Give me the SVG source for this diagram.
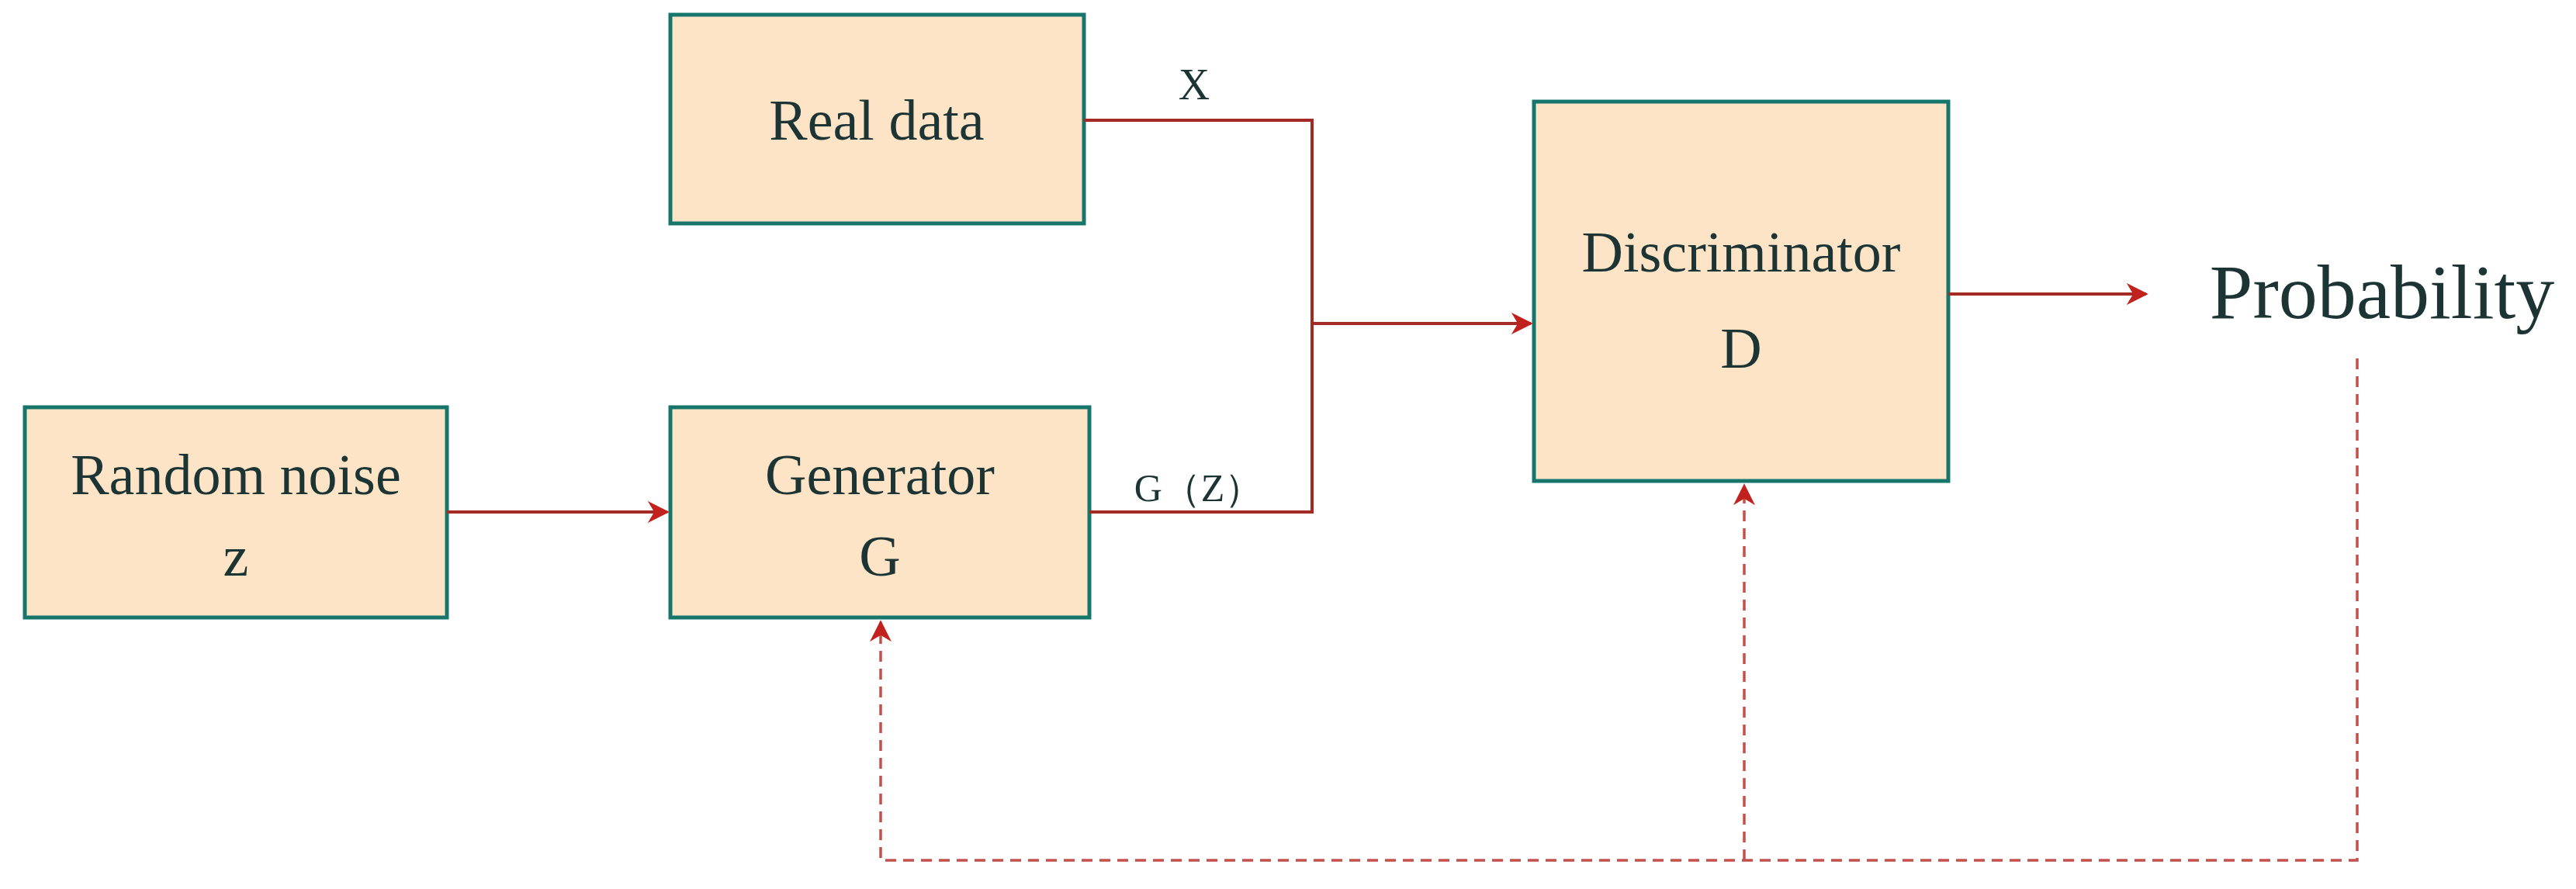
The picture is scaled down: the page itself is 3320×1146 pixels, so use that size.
<svg xmlns="http://www.w3.org/2000/svg" width="3320" height="1146" viewBox="0 0 3320 1146">
<style>
.box{fill:#fde4c6;stroke:#17766c;stroke-width:5}
.t{font-family:"Liberation Serif",serif;fill:#1c3434;text-anchor:middle}
.ln{fill:none;stroke:#a42a26;stroke-width:4}
.ds{fill:none;stroke:#c4504c;stroke-width:3.5;stroke-dasharray:14,9}
</style>
<defs>
<marker id="a" viewBox="0 0 10 10" refX="9" refY="5" markerWidth="12" markerHeight="12" markerUnits="userSpaceOnUse" orient="auto"><path d="M0,0L10,5L0,10L3,5Z" fill="#c2221e" transform="scale(1)"/></marker>
<marker id="b" viewBox="0 0 10 10" refX="9" refY="5" markerWidth="28" markerHeight="28" markerUnits="userSpaceOnUse" orient="auto"><path d="M0,0L10,5L0,10L3,5Z" fill="#c2221e"/></marker>
</defs>
<rect width="3320" height="1146" fill="#fff"/>
<g id="real"><rect class="box" x="864" y="19" width="533" height="269"/><text class="t" x="1130" y="180" font-size="74">Real data</text></g>
<g id="noise"><rect class="box" x="32" y="525" width="544" height="271"/><text class="t" x="304" y="637" font-size="74">Random noise</text><text class="t" x="304" y="742" font-size="74">z</text></g>
<g id="gen"><rect class="box" x="864" y="525" width="540" height="271"/><text class="t" x="1134" y="637" font-size="74">Generator</text><text class="t" x="1134" y="742" font-size="74">G</text></g>
<g id="disc"><rect class="box" x="1977" y="131" width="534" height="489"/><text class="t" x="2244" y="350" font-size="74">Discriminator</text><text class="t" x="2244" y="474" font-size="74">D</text></g>
<g id="prob"><text class="t" x="3070" y="410" font-size="100">Probability</text></g>
<g id="connectors">
<text class="t" x="1539" y="128" font-size="56">X</text>
<text class="t" x="1545" y="646" font-size="50">G（Z）</text>
<path class="ln" d="M1397,155H1691V660H1404"/>
<path class="ln" d="M1691,417H1973" marker-end="url(#b)"/>
<path class="ln" d="M576,660H860" marker-end="url(#b)"/>
<path class="ln" d="M2511,379H2766" marker-end="url(#b)"/>
<path class="ds" d="M3038,462V1109H1135V802" marker-end="url(#b)"/>
<path class="ds" d="M2248,1109V626" marker-end="url(#b)"/>
</g>
</svg>
